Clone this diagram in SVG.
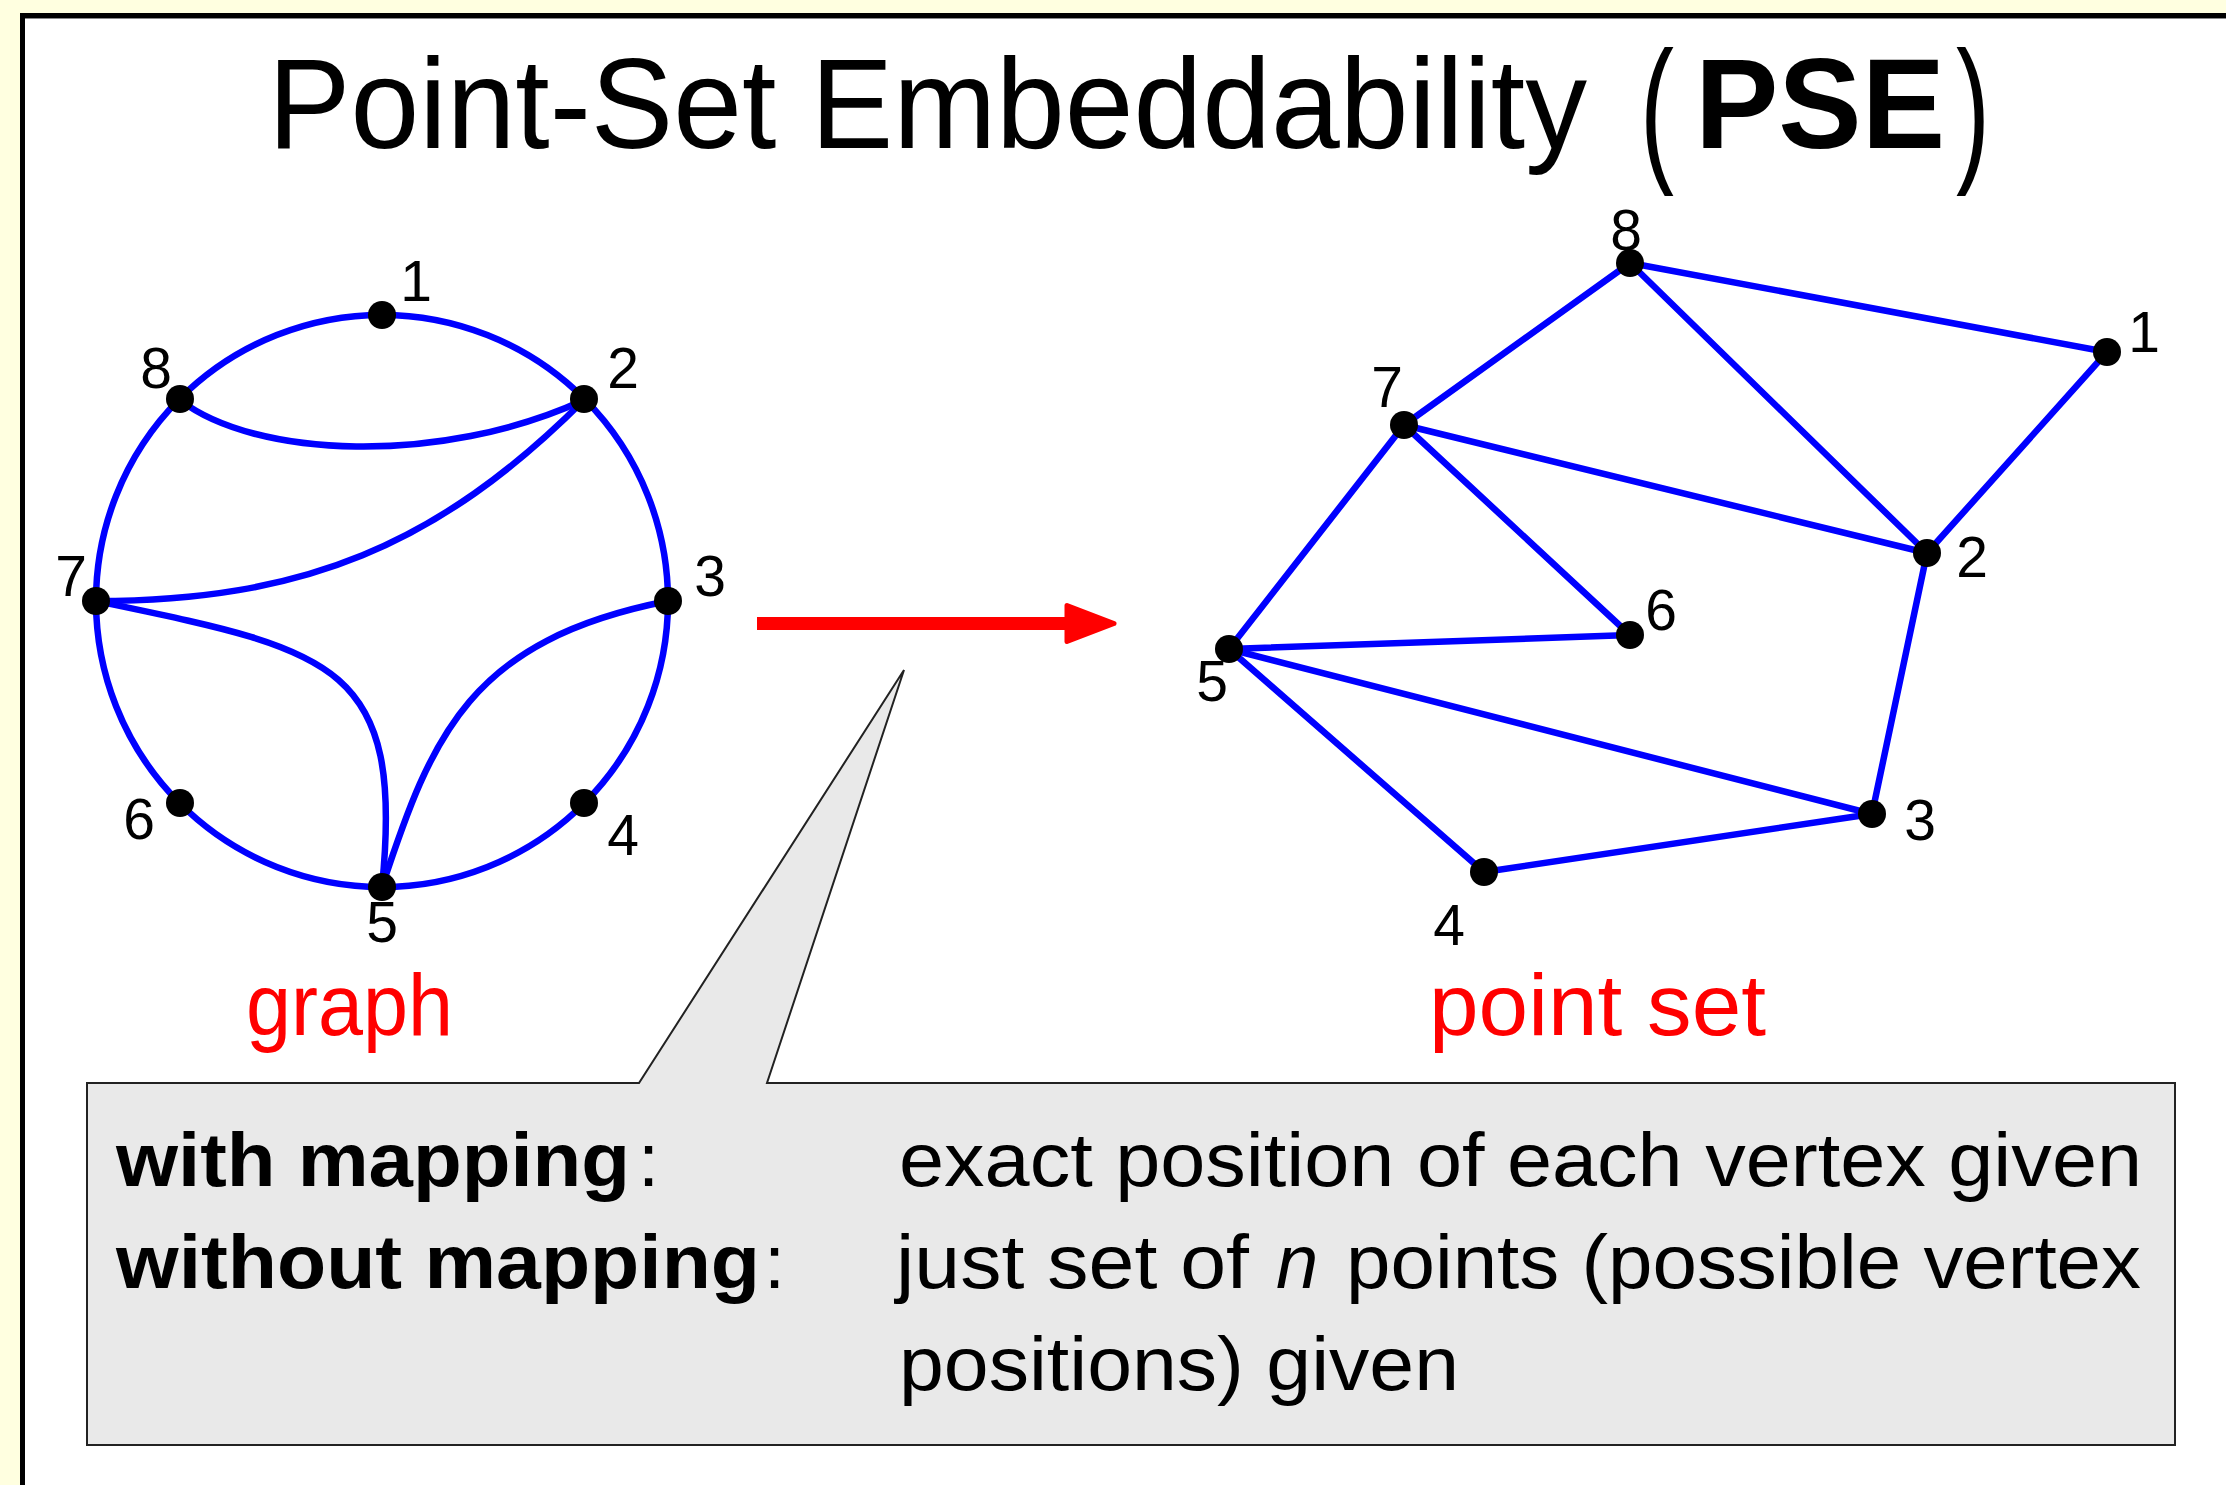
<svg xmlns="http://www.w3.org/2000/svg" width="2226" height="1485" viewBox="0 0 2226 1485">
<style>
.t{font-family:"Liberation Sans",Arial,sans-serif;fill:#000}
.lbl{font-family:"Liberation Sans",Arial,sans-serif;font-size:57px;text-anchor:middle;fill:#000}
.red{font-family:"Liberation Sans",Arial,sans-serif;font-size:88px;fill:#ff0000}
.box{font-family:"Liberation Sans",Arial,sans-serif;font-size:76px;fill:#000}
.e{fill:none;stroke:#0000ff;stroke-width:6.5;stroke-linecap:round}
.v{fill:#000}
</style>
<rect x="0" y="0" width="2226" height="1485" fill="#ffffe0"/>
<rect x="22.5" y="15.5" width="2240" height="1500" fill="#ffffff" stroke="#000" stroke-width="5"/>
<line x1="25" y1="18.5" x2="2226" y2="18.5" stroke="#888" stroke-width="1"/>

<g id="title">
<text class="t" x="268" y="148" font-size="128" textLength="1319" lengthAdjust="spacingAndGlyphs">Point-Set Embeddability</text>
<text class="t" x="1640" y="163" font-size="160" textLength="34" lengthAdjust="spacingAndGlyphs">(</text>
<text class="t" x="1695" y="148" font-size="128" font-weight="bold" textLength="250" lengthAdjust="spacingAndGlyphs">PSE</text>
<text class="t" x="1956" y="163" font-size="160" textLength="34" lengthAdjust="spacingAndGlyphs">)</text>
</g>

<g id="graph-edges">
<circle class="e" cx="382" cy="601" r="286"/>
<path class="e" d="M180,400 C255,458 440,466 584,400"/>
<path class="e" d="M96,601 C302,601 438,546 584,400"/>
<path class="e" d="M96,601 C330,650 405,660 382,887"/>
<path class="e" d="M668,601 C470,640 432,735 382,887"/>
</g>
<g id="g-v1"><circle class="v" cx="382" cy="315" r="14"/><text class="lbl" x="416" y="301">1</text></g>
<g id="g-v2"><circle class="v" cx="584" cy="399" r="14"/><text class="lbl" x="623" y="388">2</text></g>
<g id="g-v3"><circle class="v" cx="668" cy="601" r="14"/><text class="lbl" x="710" y="596">3</text></g>
<g id="g-v4"><circle class="v" cx="584" cy="803" r="14"/><text class="lbl" x="623" y="855">4</text></g>
<g id="g-v5"><circle class="v" cx="382" cy="887" r="14"/><text class="lbl" x="382" y="942">5</text></g>
<g id="g-v6"><circle class="v" cx="180" cy="803" r="14"/><text class="lbl" x="139" y="839">6</text></g>
<g id="g-v7"><circle class="v" cx="96" cy="601" r="14"/><text class="lbl" x="71" y="596">7</text></g>
<g id="g-v8"><circle class="v" cx="180" cy="399" r="14"/><text class="lbl" x="156" y="388">8</text></g>
<text class="red" x="246" y="1035" textLength="207" lengthAdjust="spacingAndGlyphs">graph</text>

<g id="arrow">
<line x1="757" y1="623.5" x2="1070" y2="623.5" stroke="#ff0000" stroke-width="13"/>
<polygon points="1067,605.5 1114,623.5 1067,641.5" fill="#ff0000" stroke="#ff0000" stroke-width="5" stroke-linejoin="round"/>
</g>

<g id="pointset-edges">
<line class="e" x1="1630" y1="263" x2="2107" y2="352"/>
<line class="e" x1="1630" y1="263" x2="1404" y2="425"/>
<line class="e" x1="1630" y1="263" x2="1927" y2="553"/>
<line class="e" x1="2107" y1="352" x2="1927" y2="553"/>
<line class="e" x1="1404" y1="425" x2="1927" y2="553"/>
<line class="e" x1="1404" y1="425" x2="1630" y2="635"/>
<line class="e" x1="1404" y1="425" x2="1229" y2="649"/>
<line class="e" x1="1229" y1="649" x2="1630" y2="635"/>
<line class="e" x1="1229" y1="649" x2="1872" y2="814"/>
<line class="e" x1="1229" y1="649" x2="1484" y2="872"/>
<line class="e" x1="1484" y1="872" x2="1872" y2="814"/>
<line class="e" x1="1927" y1="553" x2="1872" y2="814"/>
</g>
<g id="p-v1"><circle class="v" cx="2107" cy="352" r="14"/><text class="lbl" x="2144" y="352">1</text></g>
<g id="p-v2"><circle class="v" cx="1927" cy="553" r="14"/><text class="lbl" x="1972" y="577">2</text></g>
<g id="p-v3"><circle class="v" cx="1872" cy="814" r="14"/><text class="lbl" x="1920" y="840">3</text></g>
<g id="p-v4"><circle class="v" cx="1484" cy="872" r="14"/><text class="lbl" x="1449" y="945">4</text></g>
<g id="p-v5"><circle class="v" cx="1229" cy="649" r="14"/><text class="lbl" x="1212" y="701">5</text></g>
<g id="p-v6"><circle class="v" cx="1630" cy="635" r="14"/><text class="lbl" x="1661" y="630">6</text></g>
<g id="p-v7"><circle class="v" cx="1404" cy="425" r="14"/><text class="lbl" x="1387" y="407">7</text></g>
<g id="p-v8"><circle class="v" cx="1630" cy="263" r="14"/><text class="lbl" x="1626" y="250">8</text></g>
<text class="red" x="1429" y="1035" textLength="337" lengthAdjust="spacingAndGlyphs">point set</text>

<g id="callout">
<path d="M87,1083 H639 L904,670 L767,1083 H2175 V1445 H87 Z" fill="#e9e9e9" stroke="#222" stroke-width="2" stroke-linejoin="miter"/>
<text class="box" x="116" y="1186" font-weight="bold" textLength="514" lengthAdjust="spacingAndGlyphs">with mapping</text>
<text class="box" x="638" y="1186">:</text>
<text class="box" x="899" y="1186" textLength="1243" lengthAdjust="spacingAndGlyphs">exact position of each vertex given</text>
<text class="box" x="116" y="1288" font-weight="bold" textLength="644" lengthAdjust="spacingAndGlyphs">without mapping</text>
<text class="box" x="764" y="1288">:</text>
<text class="box" x="896" y="1288" textLength="353" lengthAdjust="spacingAndGlyphs">just set of</text>
<text class="box" x="1276" y="1288" font-style="italic">n</text>
<text class="box" x="1346" y="1288" textLength="795" lengthAdjust="spacingAndGlyphs">points (possible vertex</text>
<text class="box" x="899" y="1390" textLength="560" lengthAdjust="spacingAndGlyphs">positions) given</text>
</g>
</svg>
